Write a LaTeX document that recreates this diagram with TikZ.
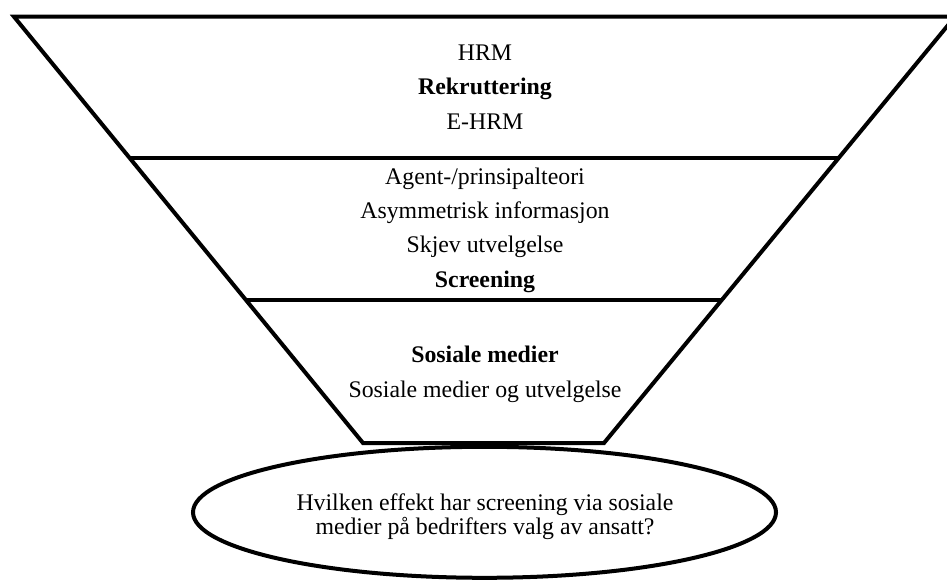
\documentclass[tikz,border=0pt]{standalone}
\usepackage{fontspec}
\setmainfont{Liberation Serif}
\usetikzlibrary{shapes.geometric}

\begin{document}
\begin{tikzpicture}[
    x=1pt, y=-1pt,
    funnel/.style={draw, line width=4pt},
    entry/.style={anchor=base, inner sep=0pt, font=\fontsize{23.8}{28}\selectfont},
    goal/.style={ellipse, draw, line width=4pt, minimum width=583pt, minimum height=131pt, inner sep=0pt}
]
\useasboundingbox (0,0) rectangle (947,581);

% Funnel outline and band separators
\draw[funnel] (14,16.7) -- (955,16.7) -- (604,443) -- (363,443) -- cycle;
\draw[funnel] (129.3,157.7) -- (839,157.7);
\draw[funnel] (245.8,300) -- (722,300);

% Top band
\node[entry] (hrm) at (485,60.7) {HRM};
\node[entry] (rekruttering) at (485,94.5) {\textbf{Rekruttering}};
\node[entry] (ehrm) at (485,129.3) {E-HRM};

% Middle band
\node[entry] (agent) at (485,184) {Agent-/prinsipalteori};
\node[entry] (asym) at (485,218.3) {Asymmetrisk informasjon};
\node[entry] (skjev) at (485,252.7) {Skjev utvelgelse};
\node[entry] (screening) at (485,287.5) {\textbf{Screening}};

% Bottom band
\node[entry] (sosiale) at (485,362.7) {\textbf{Sosiale medier}};
\node[entry] (utvelgelse) at (485,397.3) {Sosiale medier og utvelgelse};

% Research question
\node[goal] (question) at (484.5,512.3) {};
\node[entry] (qtop) at (485,510.7) {Hvilken effekt har screening via sosiale};
\node[entry] (qbottom) at (485,534) {medier på bedrifters valg av ansatt?};

\end{tikzpicture}
\end{document}
